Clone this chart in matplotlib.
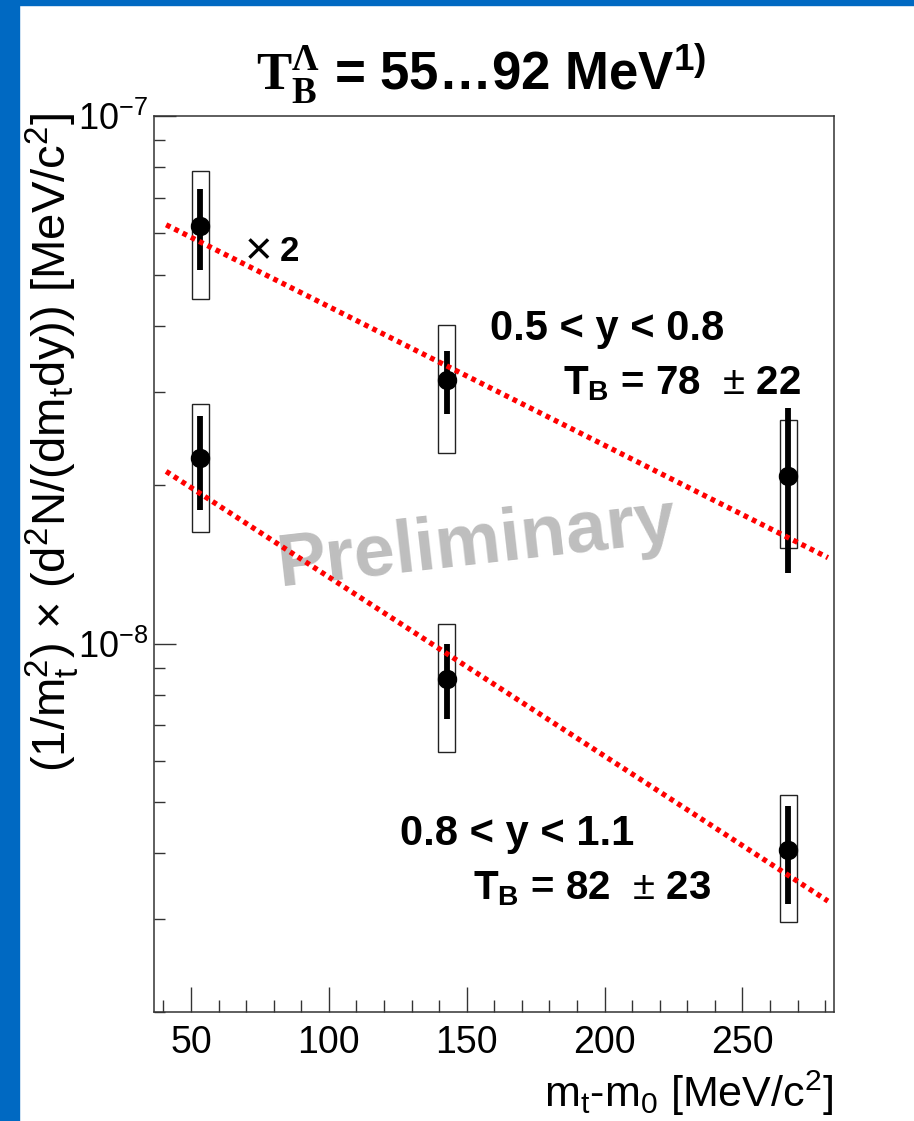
import matplotlib
matplotlib.use("Agg")
import matplotlib.pyplot as plt
from matplotlib.patches import Rectangle
from matplotlib.ticker import MultipleLocator, FixedLocator, LogLocator, NullFormatter

# values (upper set is already scaled x2)
mt_m0 = [53.3, 142.7, 266.6]

hi_y = [6.19e-8, 3.16e-8, 2.08e-8]
hi_err_lo = [5.11e-8, 2.72e-8, 1.36e-8]
hi_err_hi = [7.27e-8, 3.58e-8, 2.80e-8]
hi_sys_lo = [4.50e-8, 2.30e-8, 1.52e-8]
hi_sys_hi = [7.87e-8, 4.02e-8, 2.65e-8]

lo_y = [2.25e-8, 8.55e-9, 4.07e-9]
lo_err_lo = [1.79e-8, 7.20e-9, 3.21e-9]
lo_err_hi = [2.70e-8, 9.96e-9, 4.92e-9]
lo_sys_lo = [1.63e-8, 6.24e-9, 2.97e-9]
lo_sys_hi = [2.85e-8, 1.087e-8, 5.16e-9]

fit_x = [41.0, 281.0]
hi_fit = [6.22e-8, 1.455e-8]
lo_fit = [2.12e-8, 3.25e-9]

y_major = [1e-8, 1e-7]

plt.rcParams['font.family'] = ['Liberation Sans', 'DejaVu Sans']
plt.rcParams['mathtext.fontset'] = 'custom'
plt.rcParams['mathtext.rm'] = 'Liberation Sans'
plt.rcParams['mathtext.it'] = 'Liberation Sans:italic'
plt.rcParams['mathtext.bf'] = 'Liberation Sans:bold'
plt.rcParams['mathtext.sf'] = 'Liberation Sans'
plt.rcParams['mathtext.cal'] = 'Liberation Serif:bold'

W, H = 914, 1121
fig = plt.figure(figsize=(W / 100, H / 100), dpi=100)

# blue slide frame
fig.add_artist(Rectangle((0, 0), 19 / W, 1, transform=fig.transFigure,
                         color='#0069C2', zorder=0))
fig.add_artist(Rectangle((0, 1 - 5 / H), 1, 5 / H, transform=fig.transFigure,
                         color='#0069C2', zorder=0))

ax = fig.add_axes([154 / W, 1 - 1012.3 / H, 680 / W, 896.3 / H])
ax.set_yscale('log')
ax.set_xlim(36.6, 283.2)
ax.set_ylim(2e-9, 1e-7)

box_hw = 3.1


def draw_set(y, elo, ehi, slo, shi, fit):
    for x, a, b in zip(mt_m0, slo, shi):
        ax.add_patch(Rectangle((x - box_hw, a), 2 * box_hw, b - a, fill=False,
                               edgecolor='#222222', linewidth=1.0, zorder=2))
    yerr = [[v - l for v, l in zip(y, elo)], [h - v for v, h in zip(y, ehi)]]
    ax.errorbar(mt_m0, y, yerr=yerr, fmt='o', color='black', ms=13,
                elinewidth=4.2, capsize=0, zorder=3)
    ax.plot(fit_x, fit, color='#FF0000', linewidth=3.8,
            linestyle=(0, (0.9, 0.85)), zorder=4)


draw_set(hi_y, hi_err_lo, hi_err_hi, hi_sys_lo, hi_sys_hi, hi_fit)
draw_set(lo_y, lo_err_lo, lo_err_hi, lo_sys_lo, lo_sys_hi, lo_fit)

ax.text(153.7, 1.547e-8, 'Preliminary', rotation=6.5, rotation_mode='anchor',
        ha='center', va='center', fontsize=53, fontweight='bold',
        color='#BEBEBE', zorder=1)

ax.text(69.3, 5.57e-8, r'$\times$', fontsize=34, va='center', ha='left')
ax.text(82.3, 5.30e-8, '2', fontsize=25, fontweight='bold', va='baseline')

ax.text(158.4, 3.765e-8, '0.5 < y < 0.8', fontsize=30, fontweight='bold',
        va='baseline')
ax.text(184.8, 2.962e-8, r'T$_{\mathbf{B}}$ = 78  $\pm$ 22', fontsize=29,
        fontweight='bold', va='baseline')
ax.text(125.8, 4.16e-9, '0.8 < y < 1.1', fontsize=30, fontweight='bold',
        va='baseline')
ax.text(152.2, 3.27e-9, r'T$_{\mathbf{B}}$ = 82  $\pm$ 23', fontsize=29,
        fontweight='bold', va='baseline')

ax.xaxis.set_major_locator(MultipleLocator(50))
ax.xaxis.set_minor_locator(MultipleLocator(10))
ax.yaxis.set_major_locator(FixedLocator(y_major))
ax.yaxis.set_minor_locator(LogLocator(base=10, subs=range(2, 10)))
ax.yaxis.set_minor_formatter(NullFormatter())
ax.set_yticklabels([r'$\mathdefault{10^{-8}}$', r'$\mathdefault{10^{-7}}$'])

ax.tick_params(axis='x', which='major', direction='in', length=18, width=1,
               color='#333333', labelsize=27, pad=9)
ax.tick_params(axis='x', which='minor', direction='in', length=9, width=1,
               color='#333333')
ax.tick_params(axis='y', which='major', direction='in', length=16, width=1,
               color='#333333', labelsize=26, pad=4)
ax.tick_params(axis='y', which='minor', direction='in', length=8, width=1,
               color='#333333')
for s in ax.spines.values():
    s.set_linewidth(1.1)
    s.set_color('#333333')

fig.text(52 / W, 1 - 113 / H,
         r'(1/m$_{\rm t}^{\rm 2}$) $\times$ (d$^{\rm 2}$N/(dm$_{\rm t}$dy)) [MeV/c$^{\rm 2}$]',
         rotation=90, ha='center', va='top', fontsize=34)
fig.text(833 / W, 1 - 1107 / H, r'm$_{\rm t}$-m$_{\rm 0}$ [MeV/c$^{\rm 2}$]',
         ha='right', va='baseline', fontsize=31)

fig.text(481 / W, 1 - 90 / H,
         r'$\mathcal{T}_{\mathcal{B}}^{\mathcal{\Lambda}}$ = 55…92 MeV$^{\mathbf{1)}}$',
         ha='center', va='baseline', fontsize=38, fontweight='bold')

fig.savefig('out.png', dpi=100)
